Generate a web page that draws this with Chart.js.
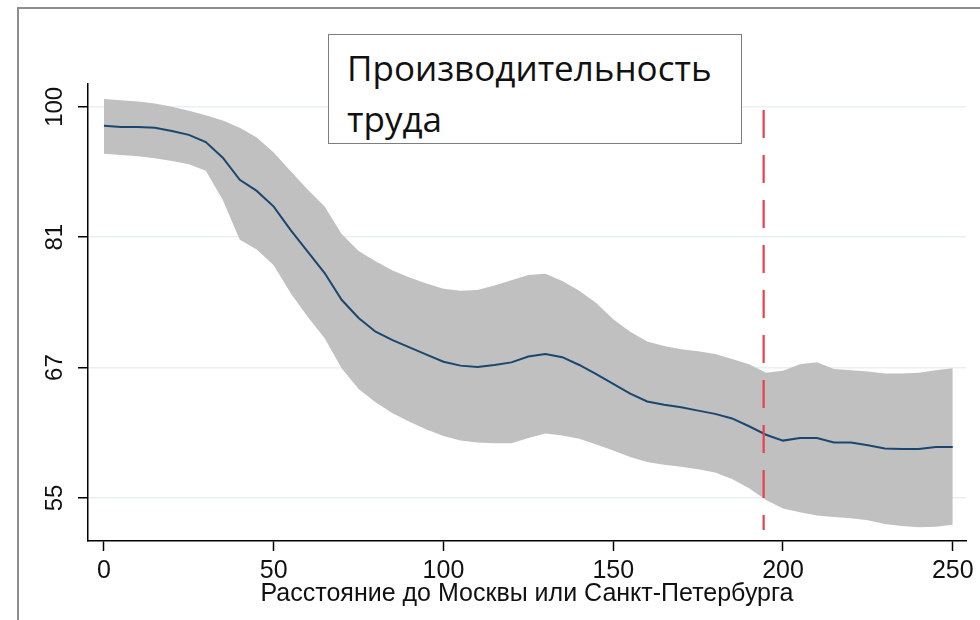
<!DOCTYPE html>
<html>
<head>
<meta charset="utf-8">
<script src="https://cdn.jsdelivr.net/npm/chart.js@4.4.1/dist/chart.umd.min.js"></script>
<style>
  body { margin: 0; background: #fff; }
  #wrap { position: relative; width: 980px; height: 620px; }
  #frame { position: absolute; left: 17px; top: 7px; right: 0; bottom: 0;
           border-top: 2px solid #8e8e8e; border-left: 2px solid #8e8e8e; pointer-events: none; }
  #note { position: absolute; left: 328px; top: 34px; width: 414px; height: 110px;
          box-sizing: border-box; border: 1.5px solid #7d7d7d; background: #fff;
          font-family: "Open Sans", "Noto Sans", sans-serif; font-size: 35px; line-height: 51px;
          color: #111; padding: 6.5px 0 0 18px; }
</style>
</head>
<body>
<div id="wrap">
  <canvas id="chart" width="980" height="620"></canvas>
  <div id="frame"></div>
  <div id="note">Производительность<br>труда</div>
</div>
<script>
// distance, km
var distance = [0, 5, 10, 15, 20, 25, 30, 35, 40, 45,
                50, 55, 60, 65, 70, 75, 80, 85, 90, 95,
                100, 105, 110, 115, 120, 125, 130, 135, 140, 145,
                150, 155, 160, 165, 170, 175, 180, 185, 190, 195,
                200, 205, 210, 215, 220, 225, 230, 235, 240, 245, 250];

// log labour productivity: fit and confidence band
var meanLn = [4.571, 4.569, 4.569, 4.568, 4.563, 4.557, 4.546, 4.522, 4.488, 4.471,
              4.447, 4.411, 4.378, 4.345, 4.304, 4.276, 4.255, 4.242, 4.231, 4.220,
              4.209, 4.203, 4.201, 4.204, 4.208, 4.217, 4.221, 4.216, 4.204, 4.190,
              4.175, 4.160, 4.148, 4.143, 4.139, 4.134, 4.129, 4.122, 4.110, 4.097,
              4.088, 4.092, 4.092, 4.085, 4.085, 4.081, 4.076, 4.075, 4.075, 4.078, 4.078];
var upperLn = [4.612, 4.610, 4.608, 4.605, 4.600, 4.594, 4.587, 4.579, 4.568, 4.553,
               4.530, 4.501, 4.473, 4.447, 4.405, 4.379, 4.363, 4.349, 4.338, 4.329,
               4.321, 4.318, 4.319, 4.326, 4.334, 4.342, 4.344, 4.333, 4.318, 4.299,
               4.274, 4.255, 4.240, 4.233, 4.228, 4.225, 4.221, 4.213, 4.205, 4.192,
               4.195, 4.205, 4.208, 4.198, 4.196, 4.194, 4.191, 4.191, 4.192, 4.196, 4.199];
var lowerLn = [4.528, 4.526, 4.524, 4.521, 4.517, 4.512, 4.502, 4.457, 4.396, 4.381,
               4.357, 4.314, 4.278, 4.245, 4.199, 4.167, 4.147, 4.130, 4.117, 4.105,
               4.095, 4.088, 4.085, 4.084, 4.084, 4.092, 4.099, 4.096, 4.091, 4.082,
               4.073, 4.063, 4.055, 4.051, 4.048, 4.044, 4.039, 4.029, 4.015, 3.997,
               3.984, 3.978, 3.973, 3.971, 3.969, 3.966, 3.960, 3.957, 3.955, 3.956, 3.959];

// threshold distance (red dashed line) and its vertical extent
var cutoffDistance = 194.3;
var cutoffSpan = [4.595, 3.951];

var xTicks = [0, 50, 100, 150, 200, 250];
var yTicks = [4.0, 4.2, 4.4, 4.6];
var yTickLabels = ['55', '67', '81', '100'];
var xTitle = 'Расстояние до Москвы или Санкт-Петербурга';

var tickFont = '"Liberation Sans", Arial, sans-serif';

function pts(ys) {
  return distance.map(function(d, i) { return {x: d, y: ys[i]}; });
}

var ctx = document.getElementById('chart');

var chart = new Chart(ctx, {
  type: 'line',
  data: {
    datasets: [
      {
        label: 'cutoff',
        data: [{x: cutoffDistance, y: cutoffSpan[0]}, {x: cutoffDistance, y: cutoffSpan[1]}],
        borderColor: '#e8414b',
        borderWidth: 2.2,
        borderDash: [28, 17],
        pointRadius: 0,
        fill: false
      },
      {
        label: 'mean',
        data: pts(meanLn),
        borderColor: '#1a476f',
        borderWidth: 2,
        pointRadius: 0,
        fill: false
      },
      {
        label: 'upper',
        data: pts(upperLn),
        borderColor: 'rgba(0,0,0,0)',
        borderWidth: 0,
        backgroundColor: '#c0c0c0',
        pointRadius: 0,
        fill: '+1'
      },
      {
        label: 'lower',
        data: pts(lowerLn),
        borderColor: 'rgba(0,0,0,0)',
        borderWidth: 0,
        pointRadius: 0,
        fill: false
      }
    ]
  },
  options: {
    responsive: false,
    animation: false,
    layout: { padding: { left: 0, top: 84, right: 14, bottom: 0 } },
    plugins: { legend: { display: false }, tooltip: { enabled: false } },
    scales: {
      x: {
        type: 'linear',
        min: -4.7,
        max: 253.9,
        afterBuildTicks: function(s) { s.ticks = xTicks.map(function(v) { return {value: v}; }); },
        afterFit: function(s) { s.height = 79; s.paddingLeft = 0; s.paddingRight = 0; },
        ticks: {
          autoSkip: false,
          maxRotation: 0,
          padding: 7.5,
          color: '#111',
          font: { family: tickFont, size: 25, lineHeight: 1 }
        },
        grid: { drawOnChartArea: false, tickLength: 10, tickColor: '#000', tickWidth: 1.5 },
        border: { color: '#000', width: 1.5 },
        title: {
          display: true,
          text: xTitle,
          color: '#111',
          font: { family: tickFont, size: 25, lineHeight: 1 },
          padding: { top: 0, bottom: 13 }
        }
      },
      y: {
        min: 3.934,
        max: 4.635,
        afterBuildTicks: function(s) { s.ticks = yTicks.map(function(v) { return {value: v}; }); },
        afterFit: function(s) { s.width = 88; s.paddingTop = 0; s.paddingBottom = 0; },
        ticks: {
          autoSkip: false,
          minRotation: 90,
          maxRotation: 90,
          crossAlign: 'center',
          padding: 2.5,
          color: '#111',
          font: { family: tickFont, size: 24, lineHeight: 1 },
          callback: function(v, i) { return yTickLabels[i]; }
        },
        grid: { color: '#e8eff5', lineWidth: 1.5, tickLength: 10, tickColor: '#000', tickWidth: 1.5 },
        border: { color: '#000', width: 1.5 }
      }
    }
  }
});
</script>
</body>
</html>
